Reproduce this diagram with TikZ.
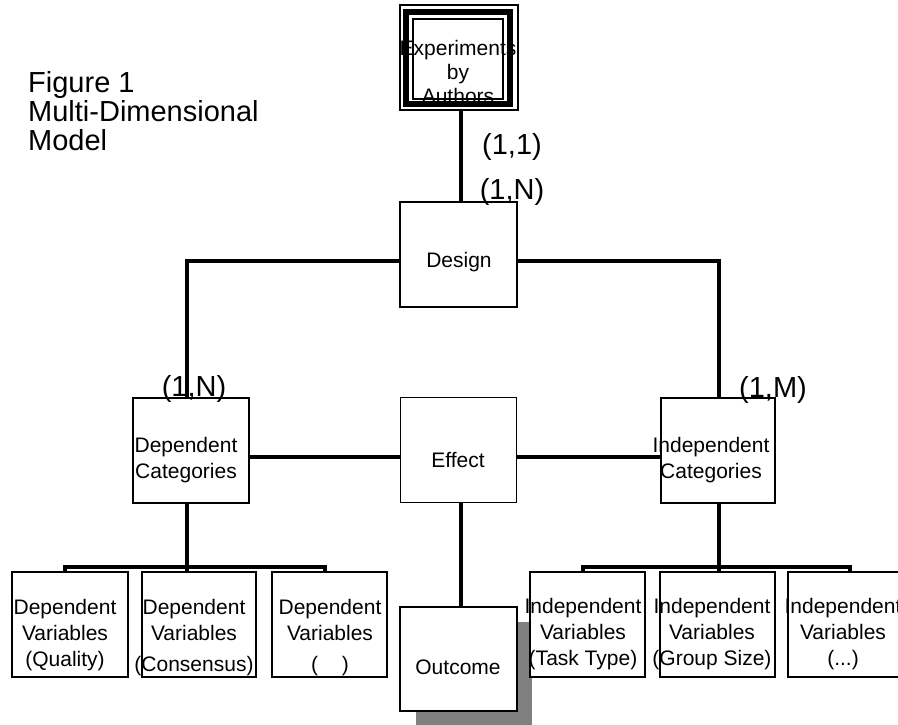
\documentclass[tikz,border=0pt]{standalone}
\usepackage{fontspec}
\setmainfont{Liberation Sans}
\definecolor{shadowgray}{RGB}{128,128,128}
\begin{document}
\begin{tikzpicture}[x=1pt,y=-1pt,
  box/.style={draw,line width=1.5pt,fill=white,inner sep=0pt,minimum height=105pt},
  conn/.style={line width=4pt},
  btext/.style={align=center,inner sep=0pt,font=\fontsize{21}{26}\selectfont},
  card/.style={inner sep=0pt,font=\fontsize{29}{29}\selectfont,anchor=base}]
\useasboundingbox (0,0) rectangle (898,724);

% title
\node[inner sep=0pt,anchor=north west,align=left,font=\fontsize{29}{29}\selectfont] (title) at (28,71) {Figure 1\\Multi-Dimensional\\Model};

% top entity (double frame)
\node[draw,line width=1.5pt,minimum width=118pt,minimum height=105pt,inner sep=0pt] (top) at (459,57.5) {};
\node[draw,line width=6pt,minimum width=104pt,minimum height=92pt,inner sep=0pt] (topmid) at (458,58) {};
\node[draw,line width=1.5pt,minimum width=90pt,minimum height=80pt,inner sep=0pt] (topin) at (458,59) {};
\node[btext,font=\fontsize{21}{24}\selectfont] (toptext) at (458,72) {Experiments\\by\\Authors};

% main boxes
\node[box,minimum width=117pt] (design) at (458.5,254.5) {};
\node[btext] (designtext) at (459,262) {Design};
\node[box,minimum width=116pt] (depcat) at (191,450.5) {};
\node[btext] (depcattext) at (186,460) {Dependent\\Categories};
\node[box,minimum width=116pt] (effect) at (458.5,450) {};
\node[btext] (effecttext) at (458,460) {Effect};
\node[box,minimum width=114pt] (indcat) at (718,450.5) {};
\node[btext] (indcattext) at (711,460) {Independent\\Categories};

% outcome with shadow
\node[fill=shadowgray,inner sep=0pt,minimum width=116pt,minimum height=104pt] (shadow) at (474,674) {};
\node[box,minimum width=117pt,minimum height=104pt] (outcome) at (458.5,659) {};
\node[btext] (outcometext) at (458,667) {Outcome};

% variable boxes
\node[box,minimum width=116pt] (dv1) at (70,624.5) {};
\node[btext] (dv1text) at (65,635) {Dependent\\Variables\\(Quality)};
\node[box,minimum width=114pt] (dv2) at (199,624.5) {};
\node[btext] (dv2text) at (194,638) {Dependent\\Variables\\[5pt](Consensus)};
\node[box,minimum width=115pt] (dv3) at (329.5,624.5) {};
\node[btext] (dv3text) at (330,638) {Dependent\\Variables\\[5pt](\hspace{24pt})};
\node[box,minimum width=115pt] (iv1) at (587.5,624.5) {};
\node[btext] (iv1text) at (583,634) {Independent\\Variables\\(Task Type)};
\node[box,minimum width=115pt] (iv2) at (717.5,624.5) {};
\node[btext] (iv2text) at (712,634) {Independent\\Variables\\(Group Size)};
\node[box,minimum width=115pt] (iv3) at (845.5,624.5) {};
\node[btext] (iv3text) at (843,634) {Independent\\Variables\\(...)};

% cardinalities
\node[card] (c11) at (512,154) {(1,1)};
\node[card] (c1n) at (512,199) {(1,N)};
\node[card] (c1nd) at (194,396) {(1,N)};
\node[card] (c1m) at (773,397) {(1,M)};

% junction coordinates
\coordinate (tx) at (461,150);
\coordinate (dj) at (187,261);
\coordinate (ij) at (719,261);
\coordinate (mid) at (0,457);
\coordinate (ox) at (461,560);
\coordinate (dbl) at (65,567);
\coordinate (dbm) at (187,567);
\coordinate (dbr) at (325,567);
\coordinate (ibl) at (583,567);
\coordinate (ibm) at (719,567);
\coordinate (ibr) at (850,567);

% connectors
\draw[conn] (top.south -| tx) -- (design.north -| tx);
\draw[conn] (design.west |- dj) -- (dj) -- (dj |- depcat.north);
\draw[conn] (design.east |- ij) -- (ij) -- (ij |- indcat.north);
\draw[conn] (depcat.east |- mid) -- (effect.west |- mid);
\draw[conn] (effect.east |- mid) -- (indcat.west |- mid);
\draw[conn] (effect.south -| ox) -- (outcome.north -| ox);
\draw[conn] (depcat.south -| dbm) -- (dv2.north -| dbm);
\draw[conn] (dv1.north -| dbl) -- (dbl) -- (dbr) -- (dv3.north -| dbr);
\draw[conn] (indcat.south -| ibm) -- (iv2.north -| ibm);
\draw[conn] (iv1.north -| ibl) -- (ibl) -- (ibr) -- (iv3.north -| ibr);
\end{tikzpicture}
\end{document}
